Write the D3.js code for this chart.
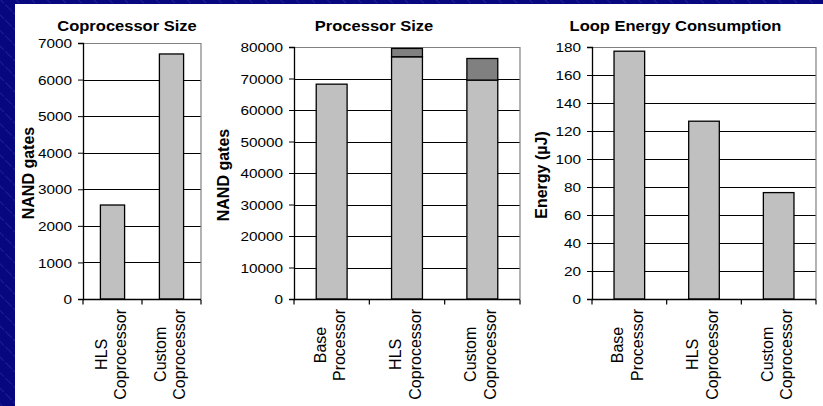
<!DOCTYPE html>
<html>
  <head>
    <script src="https://cdn.jsdelivr.net/npm/d3@7" charset="utf-8"></script>
    <style>
      body { margin: 0; }
      text { font-family: "Liberation Sans", Arial, sans-serif; }
    </style>
  </head>
  <body>
    <svg id="chart" width="823" height="406"></svg>
    <script>
      // --- data ---
      var copCategories = [["HLS", "Coprocessor"], ["Custom", "Coprocessor"]];
      var copSize = [2570, 6700];
      var copTicks = [0, 1000, 2000, 3000, 4000, 5000, 6000, 7000];

      var procCategories = [["Base", "Processor"], ["HLS", "Coprocessor"], ["Custom", "Coprocessor"]];
      var procBase = [68200, 76900, 69500];
      var procCoproc = [0, 2650, 6850];
      var procTicks = [0, 10000, 20000, 30000, 40000, 50000, 60000, 70000, 80000];

      var energyCategories = [["Base", "Processor"], ["HLS", "Coprocessor"], ["Custom", "Coprocessor"]];
      var energy = [177, 127, 76];
      var energyTicks = [0, 20, 40, 60, 80, 100, 120, 140, 160, 180];

      var svg = d3.select("#chart");

      // slide background: navy with thin diagonal stripes
      var defs = svg.append("defs");
      var pat = defs.append("pattern")
          .attr("id", "stripes").attr("patternUnits", "userSpaceOnUse")
          .attr("width", 11).attr("height", 11)
          .attr("patternTransform", "rotate(-45)");
      pat.append("rect").attr("width", 11).attr("height", 11).attr("fill", "#07077f");
      pat.append("line").attr("x1", 0).attr("y1", 0).attr("x2", 0).attr("y2", 11)
        .attr("stroke", "#4444b0").attr("stroke-width", 0.8).attr("stroke-dasharray", "5,2");
      svg.append("rect").attr("width", 823).attr("height", 406).attr("fill", "url(#stripes)");
      svg.append("rect").attr("x", 15).attr("y", 4).attr("width", 808).attr("height", 402).attr("fill", "white");

      function drawChart(opt) {
        var g = svg.append("g");
        var y = d3.scaleLinear().domain([0, opt.max]).range([opt.bottom, opt.top]);
        var x = d3.scaleBand().domain(d3.range(opt.categories.length)).range([opt.left, opt.right]);
        var bw = x.bandwidth() * 0.41;

        // gridlines
        g.selectAll("line.grid").data(opt.ticks.slice(1, -1)).enter().append("line")
          .attr("x1", opt.left).attr("x2", opt.right)
          .attr("y1", d => Math.round(y(d)) + 0.5).attr("y2", d => Math.round(y(d)) + 0.5)
          .attr("stroke", "black").attr("stroke-width", 1);
        // plot border (top + right) in grey
        var yt = Math.round(y(opt.max)) + 0.5;
        g.append("path")
          .attr("d", `M${opt.left},${yt}H${opt.right}V${opt.bottom}`)
          .attr("fill", "none").attr("stroke", "#808080").attr("stroke-width", 1.2);

        // bars
        opt.drawBars(g, x, y, bw);

        // y axis
        var yAxis = g.append("g").attr("transform", `translate(${opt.left},0)`)
          .call(d3.axisLeft(y).tickValues(opt.ticks).tickSize(5).tickPadding(6).tickFormat(d => d));
        yAxis.select(".domain").attr("stroke", "black").attr("stroke-width", 1.3);
        yAxis.selectAll(".tick line").attr("stroke", "black");
        yAxis.selectAll(".tick text")
          .attr("x", null).attr("dy", null)
          .attr("transform", "translate(-11,4.6) scale(1.18,1)")
          .attr("font-size", 13).attr("fill", "black")
          .attr("font-family", "Liberation Sans, Arial, sans-serif");

        // x axis with ticks at band edges
        var bottom = Math.round(opt.bottom) + 0.5;
        g.append("line").attr("x1", opt.left).attr("x2", opt.right)
          .attr("y1", bottom).attr("y2", bottom).attr("stroke", "black").attr("stroke-width", 1.3);
        var edges = d3.range(opt.categories.length + 1).map(i => opt.left + i * x.step());
        g.selectAll("line.xt").data(edges).enter().append("line")
          .attr("x1", d => d).attr("x2", d => d)
          .attr("y1", bottom).attr("y2", bottom + 5)
          .attr("stroke", "black").attr("stroke-width", 1.2);

        // category labels, rotated, two lines each
        opt.categories.forEach(function(lines, i) {
          var cx = x(i) + x.bandwidth() / 2;
          var texts = lines.map(function(s, j) {
            return g.append("text").text(s)
              .attr("font-size", 16).attr("fill", "black")
              .attr("text-anchor", "middle");
          });
          var maxLen = d3.max(texts, t => t.node().getComputedTextLength());
          texts.forEach(function(t, j) {
            var bx = cx + (j === 0 ? -6 : 13.5);
            t.attr("transform", `translate(${bx},${opt.bottom + 10 + maxLen / 2}) rotate(-90)`);
          });
        });

        // title
        g.append("text").text(opt.title)
          .attr("transform", `translate(${opt.titleX},30.5) scale(1.18,1)`)
          .attr("text-anchor", "middle").attr("font-size", 14).attr("font-weight", "bold");

        // y axis title
        g.append("text").text(opt.yLabel)
          .attr("transform", `translate(${opt.yLabelX},${(opt.top + opt.bottom) / 2 + 2}) rotate(-90)`)
          .attr("text-anchor", "middle").attr("font-size", 16).attr("font-weight", "bold");
      }

      function simpleBars(values) {
        return function(g, x, y, bw) {
          g.selectAll("rect.bar").data(values).enter().append("rect")
            .attr("x", (d, i) => x(i) + (x.bandwidth() - bw) / 2)
            .attr("width", bw)
            .attr("y", d => y(d))
            .attr("height", d => y(0) - y(d))
            .attr("fill", "#c0c0c0").attr("stroke", "black").attr("stroke-width", 1.3);
        };
      }

      drawChart({
        title: "Coprocessor Size", titleX: 127, yLabel: "NAND gates", yLabelX: 33.5,
        categories: copCategories, ticks: copTicks, max: 7000,
        left: 83, right: 201, top: 43, bottom: 299,
        drawBars: simpleBars(copSize)
      });

      var procTable = procCategories.map((c, i) => ({i: i, base: procBase[i], coproc: procCoproc[i]}));
      var procStack = d3.stack().keys(["base", "coproc"])(procTable);
      var procColor = {base: "#c0c0c0", coproc: "#808080"};

      drawChart({
        title: "Processor Size", titleX: 374, yLabel: "NAND gates", yLabelX: 228.5,
        categories: procCategories, ticks: procTicks, max: 80000,
        left: 294, right: 520, top: 47, bottom: 299,
        drawBars: function(g, x, y, bw) {
          procStack.forEach(function(layer) {
            g.selectAll("rect." + layer.key).data(layer.filter(d => d[1] > d[0])).enter().append("rect")
              .attr("x", d => x(d.data.i) + (x.bandwidth() - bw) / 2)
              .attr("width", bw)
              .attr("y", d => y(d[1]))
              .attr("height", d => y(d[0]) - y(d[1]))
              .attr("fill", procColor[layer.key]).attr("stroke", "black").attr("stroke-width", 1.3);
          });
        }
      });

      drawChart({
        title: "Loop Energy Consumption", titleX: 675.5, yLabel: "Energy (\u00b5J)", yLabelX: 547,
        categories: energyCategories, ticks: energyTicks, max: 180,
        left: 592, right: 816, top: 47, bottom: 299,
        drawBars: simpleBars(energy)
      });
    </script>
  </body>
</html>
